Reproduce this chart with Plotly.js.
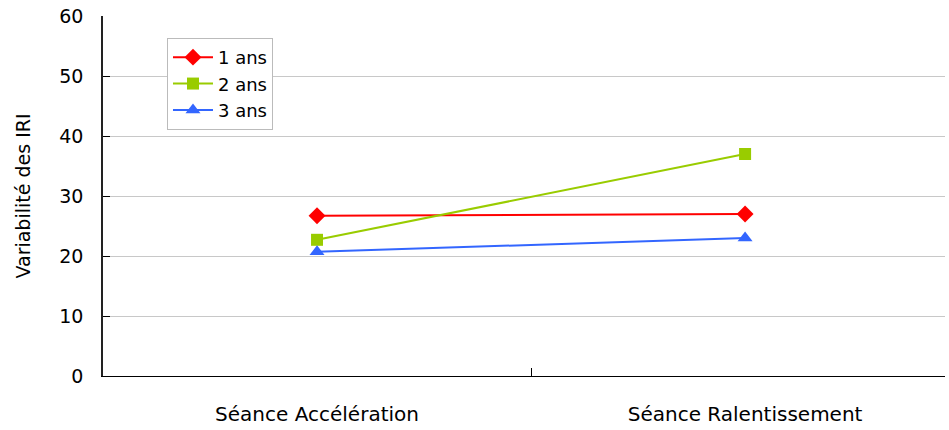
<!DOCTYPE html>
<html>
<head>
<meta charset="utf-8">
<script src="https://cdn.plot.ly/plotly-3.0.1.min.js"></script>
<style>html,body{margin:0;padding:0;background:#fff;}#chart{width:949px;height:430px;}</style>
</head>
<body>
<div id="chart"></div>
<script>
const categories = ["Séance Accélération", "Séance Ralentissement"];
const seriesNames = ["1 ans", "2 ans", "3 ans"];
const values1 = [26.7, 27.0];
const values2 = [22.7, 37.0];
const values3 = [20.7, 23.0];
const yTicks = [0, 10, 20, 30, 40, 50, 60];

const font = "'Comic Sans MS', 'DejaVu Sans', sans-serif";
const styles = [
  {color: "#ff0000", symbol: "diamond", size: 13},
  {color: "#99cc00", symbol: "square", size: 12},
  {color: "#3366ff", symbol: "triangle-up", size: 13}
];
const allVals = [values1, values2, values3];
const traces = allVals.map((v, i) => ({
  type: "scatter", mode: "lines+markers",
  x: categories, y: v, name: seriesNames[i],
  line: {color: styles[i].color, width: 2},
  marker: {color: styles[i].color, symbol: styles[i].symbol, size: styles[i].size}
}));

const layout = {
  width: 949, height: 430,
  margin: {l: 103, r: 4, t: 16, b: 54},
  paper_bgcolor: "#fff", plot_bgcolor: "#fff",
  font: {family: font, size: 17, color: "#000"},
  showlegend: true,
  legend: {x: 0.076, y: 0.939, xanchor: "left", yanchor: "top",
    bordercolor: "#bbbbbb", borderwidth: 1, bgcolor: "#fff",
    font: {family: font, size: 18}, tracegroupgap: 0, itemwidth: 40,
    entrywidth: 78, entrywidthmode: "pixels"},
  xaxis: {type: "category", range: [-0.5, 1.467], showgrid: false,
    showline: true, linecolor: "#000", linewidth: 1,
    ticks: "inside", ticklen: 8, tickcolor: "#000", tickson: "boundaries",
    ticklabelstandoff: 20, tickfont: {family: font, size: 20}, zeroline: false},
  yaxis: {range: [0, 60], tickvals: yTicks, showgrid: true, gridcolor: "#c8c8c8",
    showline: true, linecolor: "#222", linewidth: 1.5,
    ticks: "inside", ticklen: 7, tickcolor: "#000",
    ticklabelstandoff: 14, tickfont: {family: font, size: 19}, zeroline: false,
    title: {text: "Variabilité des IRI", font: {family: font, size: 19}, standoff: 24}}
};
Plotly.newPlot("chart", traces, layout, {displayModeBar: false});
</script>
</body>
</html>
